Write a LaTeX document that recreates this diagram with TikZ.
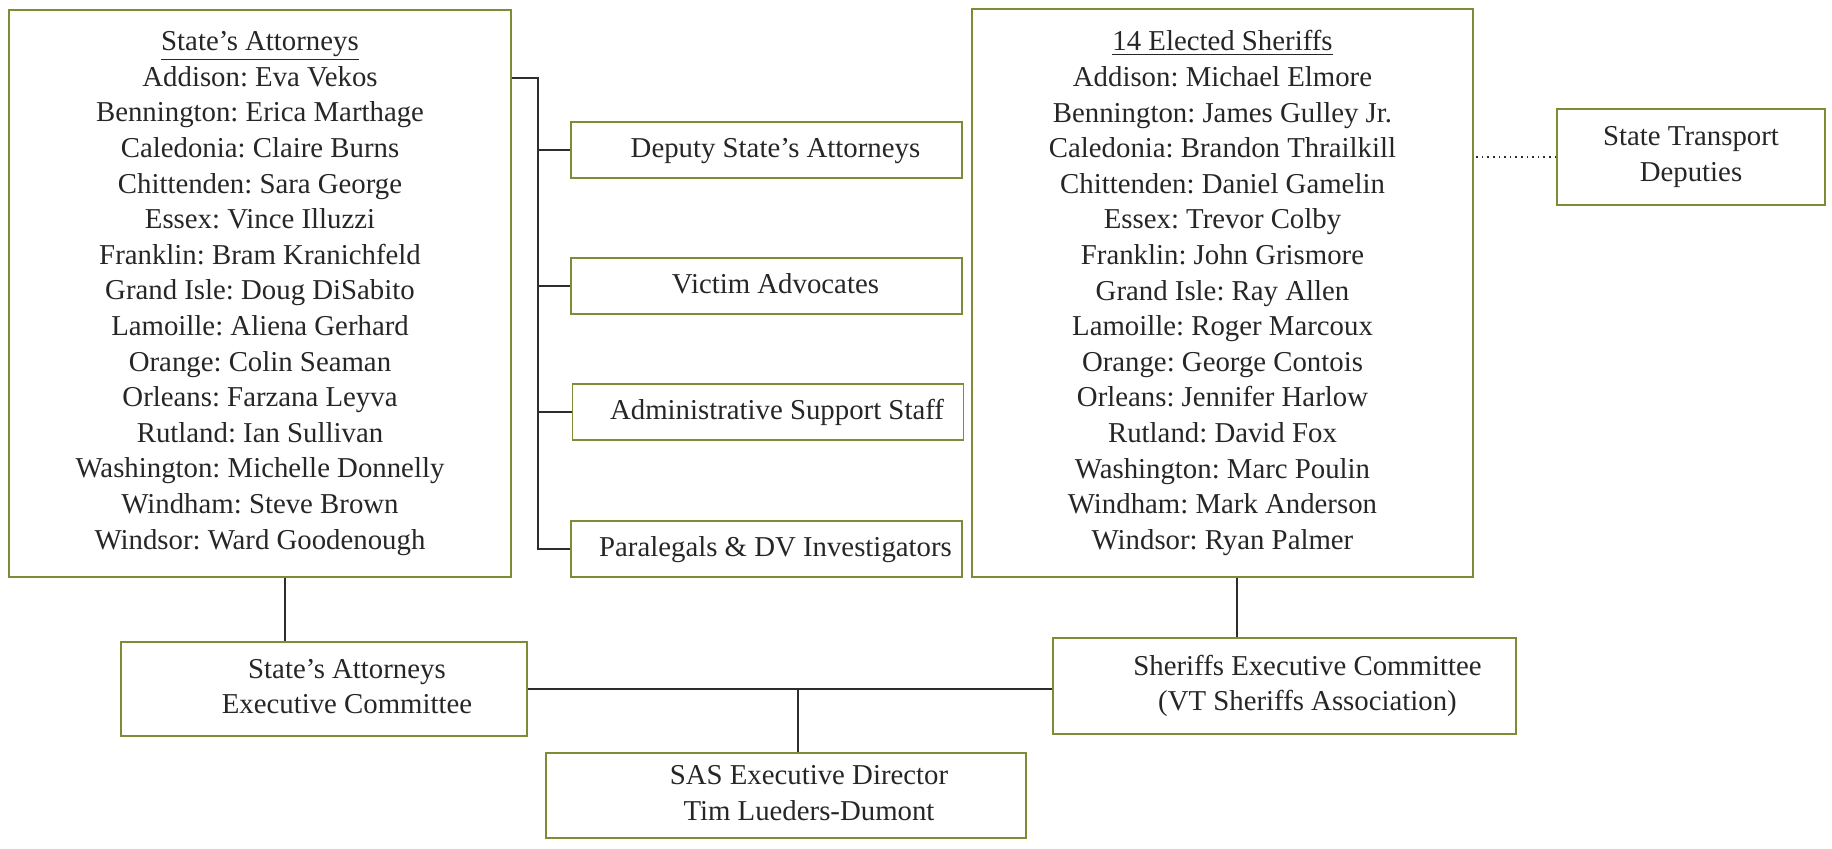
\documentclass[tikz,border=0pt]{standalone}
\usepackage{fontspec}
\setmainfont{Liberation Serif}
\frenchspacing
\definecolor{boxline}{RGB}{125,140,55}
\definecolor{conline}{RGB}{45,45,45}
\newcommand{\padtext}[2]{\begin{tabular}{@{\hspace{#1}}c@{}}#2\end{tabular}}
\begin{document}
\frenchspacing
\begin{tikzpicture}[x=0.5pt,y=-0.5pt,
  box/.style={draw=boxline, line width=0.9pt, rectangle, inner sep=0pt, align=center,
    font=\fontsize{14.4}{17.8}\selectfont\frenchspacing, text=black!85},
  conn/.style={draw=conline, line width=1.2pt},
  dotconn/.style={draw=conline, line width=0.8pt, dotted}]
\useasboundingbox (0,0) rectangle (1832,849);

\node[box, minimum width=251pt, minimum height=283.5pt] (sa) at (260,293.5) {%
\underline{State’s Attorneys}\\
Addison: Eva Vekos\\
Bennington: Erica Marthage\\
Caledonia: Claire Burns\\
Chittenden: Sara George\\
Essex: Vince Illuzzi\\
Franklin: Bram Kranichfeld\\
Grand Isle: Doug DiSabito\\
Lamoille: Aliena Gerhard\\
Orange: Colin Seaman\\
Orleans: Farzana Leyva\\
Rutland: Ian Sullivan\\
Washington: Michelle Donnelly\\
Windham: Steve Brown\\
Windsor: Ward Goodenough};

\node[box, minimum width=250.5pt, minimum height=284pt] (sh) at (1222.5,293) {%
\underline{14 Elected Sheriffs}\\
Addison: Michael Elmore\\
Bennington: James Gulley Jr.\\
Caledonia: Brandon Thrailkill\\
Chittenden: Daniel Gamelin\\
Essex: Trevor Colby\\
Franklin: John Grismore\\
Grand Isle: Ray Allen\\
Lamoille: Roger Marcoux\\
Orange: George Contois\\
Orleans: Jennifer Harlow\\
Rutland: David Fox\\
Washington: Marc Poulin\\
Windham: Mark Anderson\\
Windsor: Ryan Palmer};

\node[box, minimum width=195.5pt, minimum height=28pt] (deputy) at (766.5,150) {\padtext{9pt}{Deputy State’s Attorneys}};
\node[box, minimum width=195.5pt, minimum height=28pt] (victim) at (766.5,286) {\padtext{9pt}{Victim Advocates}};
\node[box, minimum width=195.5pt, minimum height=28pt] (admin) at (768,412) {\padtext{9pt}{Administrative Support Staff}};
\node[box, minimum width=195.5pt, minimum height=28pt] (paralegal) at (766.5,549) {\padtext{9pt}{Paralegals \& DV Investigators}};

\node[box, minimum width=134pt, minimum height=48pt] (transport) at (1691,157) {State Transport\\Deputies};

\node[box, minimum width=203pt, minimum height=47pt] (saexec) at (324,689) {\padtext{23pt}{State’s Attorneys\\Executive Committee}};
\node[box, minimum width=231.5pt, minimum height=48pt] (shexec) at (1284.5,686) {\padtext{23pt}{Sheriffs Executive Committee\\(VT Sheriffs Association)}};
\node[box, minimum width=240pt, minimum height=42.5pt] (sas) at (786,795.5) {\padtext{23pt}{SAS Executive Director\\Tim Lueders-Dumont}};

% bracket from State's Attorneys to staff boxes
\coordinate (btop) at ([yshift=-34.5pt]sa.north east);
\draw[conn] (btop) -- ++(26,0) coordinate (bx) |- (paralegal.west);
\foreach \n in {deputy,victim,admin} \draw[conn] (bx |- \n.west) -- (\n.west);

% vertical links to executive committees
\draw[conn] ([xshift=12.5pt]sa.south) -- ([xshift=12.5pt]sa.south |- saexec.north);
\draw[conn] ([xshift=7.25pt]sh.south) -- ([xshift=7.25pt]sh.south |- shexec.north);

% horizontal link between committees and drop to SAS
\draw[conn] (saexec.east) -- (saexec.east -| shexec.west);
\draw[conn] ([xshift=6pt]sas.north) -- ([xshift=6pt]sas.north |- saexec.east);

% dotted link to transport deputies
\draw[dotconn] (transport.west) -- (transport.west -| sh.east);
\end{tikzpicture}
\end{document}
